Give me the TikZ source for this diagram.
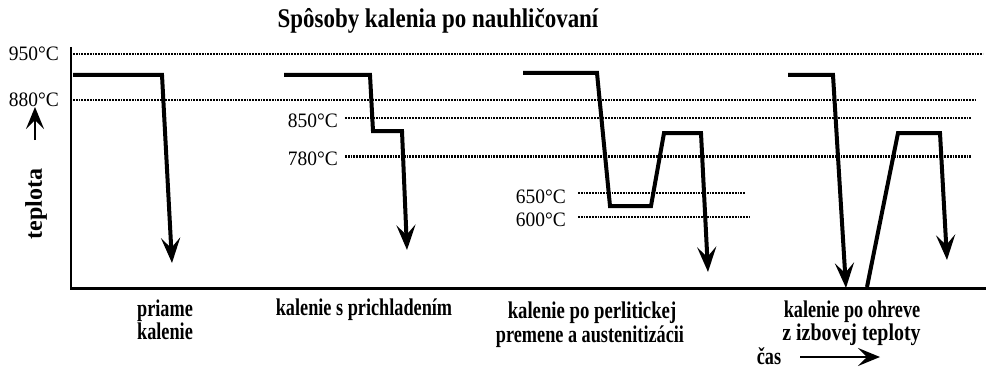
\documentclass[tikz,border=0pt]{standalone}
\usepackage{fontspec}
\setmainfont{Liberation Serif}
\usetikzlibrary{arrows.meta}
\begin{document}
\begin{tikzpicture}[x=1pt,y=-1pt,
  curve/.style={line width=4pt, line join=miter},
  curvearrow/.style={curve, -{Stealth[length=25pt,width=19pt,inset=10pt]}},
  level/.style={line width=2.2pt, dash pattern=on 1.7pt off 1.1pt},
  templabel/.style={font=\fontsize{20.5}{22}\selectfont, anchor=east, inner sep=0pt, xscale=0.95},
  caption/.style={font=\bfseries\fontsize{24}{26}\selectfont, anchor=base, inner sep=0pt, xscale=0.76},
  thinarrow/.style={line width=2pt, -{Stealth[length=22pt,width=18pt,inset=9pt]}},
  axisline/.style={line width=2.3pt}
]
\useasboundingbox (0,0) rectangle (986,369);

% title
\node[font=\bfseries\fontsize{27}{29}\selectfont, xscale=0.85, anchor=base, inner sep=0pt] (title) at (438,28) {Spôsoby kalenia po nauhličovaní};

% axes
\coordinate (otop) at (71,47);
\coordinate (origin) at (71,288.5);
\coordinate (xend) at (986,288.5);
\draw[axisline] (otop) -- (origin) -- (xend);

% y label and arrow
\node[rotate=90, font=\bfseries\fontsize{24}{26}\selectfont, inner sep=0pt] (ylabel) at (36,204) {teplota};
\coordinate (upA) at (35,140);
\coordinate (upB) at (35,107);
\draw[thinarrow] (upA) -- (upB);

% temperature levels
\draw[level] (73,54) -- (983,54);
\draw[level] (73,100) -- (977,100);
\draw[level] (345,118) -- (972,118);
\draw[level] (345,156.5) -- (972,156.5);
\draw[level] (578,193) -- (745,193);
\draw[level] (578,217) -- (749,217);

\node[templabel] (t950) at (59,54) {950°C};
\node[templabel] (t880) at (59,100) {880°C};
\node[templabel] (t850) at (338,120.5) {850°C};
\node[templabel] (t780) at (338,159) {780°C};
\node[templabel] (t650) at (566,197) {650°C};
\node[templabel] (t600) at (566,219.5) {600°C};

% curves
\draw[curvearrow] (73,75) -- (162,75) -- (172,263);
\draw[curvearrow] (284,75) -- (370,75) -- (373,131) -- (402,131) -- (407,250);
\draw[curvearrow] (523,73) -- (597,73) -- (610,206) -- (651,206) -- (664,133) -- (701,133) -- (708,272);
\draw[curvearrow] (788,75) -- (833,75) -- (846,288);
\draw[curvearrow] (867,287) -- (898,133) -- (940,133) -- (947,260);

% captions
\node[caption] (c1a) at (165,316) {priame};
\node[caption] (c1b) at (165,339) {kalenie};
\node[caption] (c2) at (364,315) {kalenie s prichladením};
\node[caption, xscale=0.78/0.76] (c3a) at (592,318) {kalenie po perlitickej};
\node[caption] (c3b) at (590,342) {premene a austenitizácii};
\node[caption] (c4a) at (852,317) {kalenie po ohreve};
\node[caption, xscale=0.83/0.76] (c4b) at (851.5,340) {z izbovej teploty};
\node[caption] (cas) at (769,364) {čas};
\coordinate (casA) at (800,357);
\coordinate (casB) at (880,357);
\draw[thinarrow] (casA) -- (casB);
\end{tikzpicture}
\end{document}
